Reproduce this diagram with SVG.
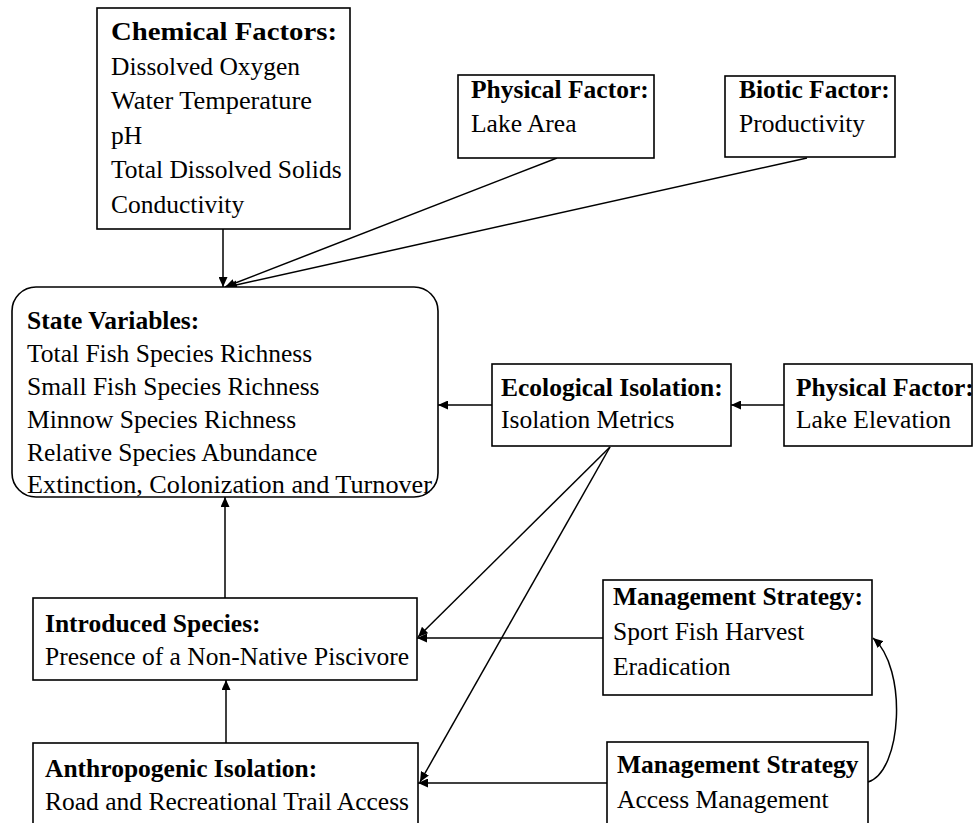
<svg xmlns="http://www.w3.org/2000/svg" width="974" height="823" viewBox="0 0 974 823">
<style>
  .box { fill: #ffffff; stroke: #000000; stroke-width: 1.6; }
  .t { font-family: "Liberation Serif", "Times New Roman", serif; font-size: 25.5px; fill: #000000; }
  .b { font-weight: bold; }
  .c { fill: none; stroke: #000000; stroke-width: 1.5; marker-end: url(#ah); }
</style>
<defs>
  <marker id="ah" markerUnits="userSpaceOnUse" markerWidth="11" markerHeight="9" refX="10" refY="4.5" orient="auto">
    <path d="M0,0 L10,4.5 L0,9 z" fill="#000000"/>
  </marker>
</defs>

<g id="connectors">
  <line class="c" x1="223" y1="229" x2="223" y2="287"/>
  <line class="c" x1="557" y1="158" x2="225" y2="287"/>
  <line class="c" x1="807" y1="158" x2="227" y2="287"/>
  <line class="c" x1="784" y1="405" x2="731" y2="405"/>
  <line class="c" x1="492" y1="405" x2="438" y2="405"/>
  <line class="c" x1="610" y1="447" x2="418" y2="637"/>
  <line class="c" x1="610" y1="447" x2="420" y2="782"/>
  <line class="c" x1="603" y1="638" x2="417" y2="638"/>
  <line class="c" x1="607" y1="783" x2="418" y2="783"/>
  <line class="c" x1="225" y1="598" x2="225" y2="497"/>
  <line class="c" x1="226" y1="743" x2="226" y2="680"/>
  <path class="c" d="M868,782 C902,772 908,668 873,638"/>
</g>

<g id="chemical">
  <rect class="box" x="97" y="8" width="253" height="221"/>
  <text class="t b" x="111" y="40" textLength="226" lengthAdjust="spacingAndGlyphs">Chemical Factors:</text>
  <text class="t" x="111" y="74.6">Dissolved Oxygen</text>
  <text class="t" x="111" y="109" textLength="201" lengthAdjust="spacingAndGlyphs">Water Temperature</text>
  <text class="t" x="111" y="143.8">pH</text>
  <text class="t" x="111" y="178.4">Total Dissolved Solids</text>
  <text class="t" x="111" y="213">Conductivity</text>
</g>

<g id="lake-area">
  <rect class="box" x="458" y="75" width="196" height="83"/>
  <text class="t b" x="471" y="98">Physical Factor:</text>
  <text class="t" x="471" y="132">Lake Area</text>
</g>

<g id="productivity">
  <rect class="box" x="725" y="76" width="170" height="81"/>
  <text class="t b" x="739" y="98">Biotic Factor:</text>
  <text class="t" x="739" y="132">Productivity</text>
</g>

<g id="state-variables">
  <rect class="box" x="12" y="287" width="426" height="210" rx="24" ry="24"/>
  <text class="t b" x="27" y="329">State Variables:</text>
  <text class="t" x="27" y="362">Total Fish Species Richness</text>
  <text class="t" x="27" y="395">Small Fish Species Richness</text>
  <text class="t" x="27" y="428">Minnow Species Richness</text>
  <text class="t" x="27" y="461">Relative Species Abundance</text>
  <text class="t" x="27" y="493" textLength="405" lengthAdjust="spacingAndGlyphs">Extinction, Colonization and Turnover</text>
</g>

<g id="ecological-isolation">
  <rect class="box" x="492" y="364" width="239" height="82"/>
  <text class="t b" x="501" y="396">Ecological Isolation:</text>
  <text class="t" x="501" y="428">Isolation Metrics</text>
</g>

<g id="lake-elevation">
  <rect class="box" x="784" y="364" width="188" height="82"/>
  <text class="t b" x="796" y="396">Physical Factor:</text>
  <text class="t" x="796" y="428">Lake Elevation</text>
</g>

<g id="introduced-species">
  <rect class="box" x="33" y="598" width="384" height="82"/>
  <text class="t b" x="45" y="632">Introduced Species:</text>
  <text class="t" x="45" y="665">Presence of a Non-Native Piscivore</text>
</g>

<g id="anthropogenic-isolation">
  <rect class="box" x="33" y="743" width="385" height="90"/>
  <text class="t b" x="45" y="777">Anthropogenic Isolation:</text>
  <text class="t" x="45" y="810">Road and Recreational Trail Access</text>
</g>

<g id="management-harvest">
  <rect class="box" x="603" y="580" width="269" height="115"/>
  <text class="t b" x="613" y="605">Management Strategy:</text>
  <text class="t" x="613" y="640">Sport Fish Harvest</text>
  <text class="t" x="613" y="675">Eradication</text>
</g>

<g id="management-access">
  <rect class="box" x="607" y="742" width="261" height="91"/>
  <text class="t b" x="617" y="773">Management Strategy</text>
  <text class="t" x="617" y="808">Access Management</text>
</g>
</svg>
